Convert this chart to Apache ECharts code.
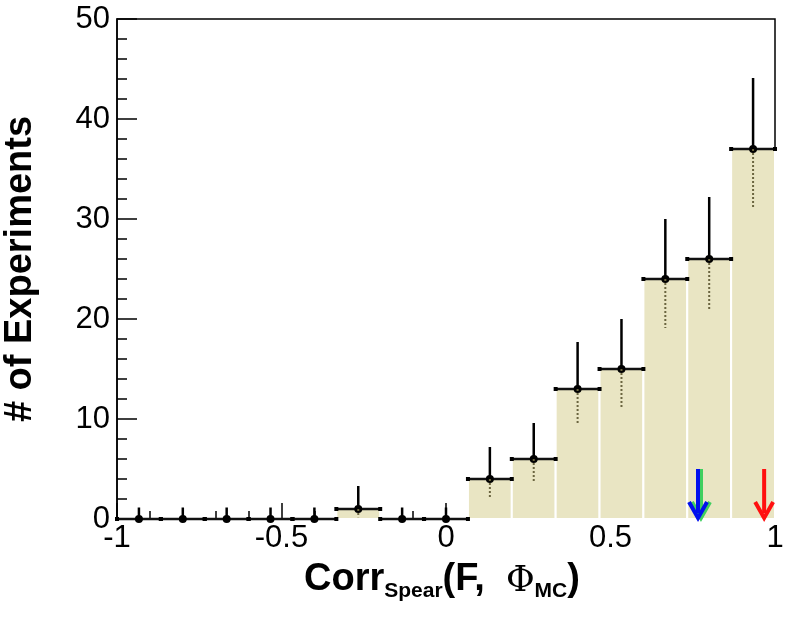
<!DOCTYPE html>
<html>
<head>
<meta charset="utf-8">
<script src="https://cdn.jsdelivr.net/npm/echarts@6/dist/echarts.min.js"></script>
<style>
  * { margin: 0; padding: 0; }
  html, body { width: 100%; height: 100%; background: #fff; }
  #chart { width: 786px; height: 621px; }
</style>
</head>
<body>
<div id="chart"></div>
<script>
// histogram bins (15 bins from -1 to 1)
var binEdges = [-1, -0.8667, -0.7333, -0.6, -0.4667, -0.3333, -0.2, -0.0667, 0.0667, 0.2, 0.3333, 0.4667, 0.6, 0.7333, 0.8667, 1]
var counts = [0, 0, 0, 0, 0, 1, 0, 0, 4, 6, 13, 15, 24, 26, 37]
var errHigh = [1.15, 1.15, 1.15, 1.15, 1.15, 3.3, 1.15, 1.15, 7.2, 9.6, 17.7, 20, 30, 32.2, 44.1]
var errLow = [0, 0, 0, 0, 0, 0.17, 0, 0, 2.1, 3.6, 9.4, 11.2, 19.1, 20.9, 31]
// arrows: x position, colour
var arrowX = [0.775, 0.766, 0.967]
var arrowColors = ['#3fcf5f', '#0010ee', '#ff1010']
var arrowTop = 5

var barData = []
var errData = []
for (var i = 0; i < counts.length; i++) {
  var lo = binEdges[i]
  var hi = binEdges[i + 1]
  if (counts[i] > 0) barData.push([lo, hi, counts[i]])
  errData.push([(lo + hi) / 2, counts[i], errLow[i], errHigh[i], lo, hi])
}
var arrowData = arrowX.map(function(x, i) { return [x, arrowTop, 0, i] })

var chart = echarts.init(document.getElementById('chart'))
var font = 'Liberation Sans, Arial, sans-serif'

function renderBar(params, api) {
  var p0 = api.coord([api.value(0), api.value(2)])
  var p1 = api.coord([api.value(1), 0])
  return {
    type: 'rect',
    shape: { x: p0[0], y: p0[1], width: p1[0] - p0[0], height: p1[1] - p0[1] },
    style: { fill: '#e9e5c3', stroke: '#ffffff', lineWidth: 2 }
  }
}

function renderErr(params, api) {
  var x = api.value(0)
  var c = api.coord([x, api.value(1)])
  var low = api.coord([x, api.value(2)])
  var high = api.coord([x, api.value(3)])
  var left = api.coord([api.value(4), api.value(1)])
  var right = api.coord([api.value(5), api.value(1)])
  var children = [
    { type: 'line', shape: { x1: c[0], y1: c[1], x2: high[0], y2: high[1] },
      style: { stroke: '#000', lineWidth: 2.5 } },
    { type: 'line', shape: { x1: left[0], y1: c[1], x2: right[0], y2: c[1] },
      style: { stroke: '#111', lineWidth: 2.5 } },
    { type: 'rect', shape: { x: left[0] - 2, y: c[1] - 2, width: 4, height: 4 }, style: { fill: '#000' } },
    { type: 'rect', shape: { x: right[0] - 2, y: c[1] - 2, width: 4, height: 4 }, style: { fill: '#000' } },
    { type: 'circle', shape: { cx: c[0], cy: c[1], r: 4 }, style: { fill: '#000' } }
  ]
  if (low[1] - c[1] > 2) {
    children.push({ type: 'line', shape: { x1: c[0], y1: c[1], x2: low[0], y2: low[1] },
      style: { stroke: '#6b6540', lineWidth: 2, lineDash: [2, 2] } })
  }
  return { type: 'group', children: children }
}

function renderArrow(params, api) {
  var top = api.coord([api.value(0), api.value(1)])
  var tip = api.coord([api.value(0), api.value(2)])
  var color = arrowColors[api.value(3)]
  var hw = 9
  var hh = 17
  return {
    type: 'group',
    children: [
      { type: 'line', shape: { x1: top[0], y1: top[1], x2: tip[0], y2: tip[1] - 6 },
        style: { stroke: color, lineWidth: 4 } },
      { type: 'polyline', shape: { points: [[tip[0] - hw, tip[1] - hh], [tip[0], tip[1] - 1], [tip[0] + hw, tip[1] - hh]] },
        style: { stroke: color, lineWidth: 4, fill: null } }
    ]
  }
}

var options = {
  animation: false,
  grid: {
    left: 117,
    right: 11,
    top: 19,
    bottom: 102,
    containLabel: false,
    outerBoundsMode: 'none',
    show: true,
    borderColor: '#000',
    borderWidth: 1.5
  },
  xAxis: {
    type: 'value',
    min: -1,
    max: 1,
    interval: 0.5,
    axisLine: { show: true, onZero: false, lineStyle: { color: '#000', width: 1.5 } },
    axisTick: { show: true, inside: true, length: 16, lineStyle: { color: '#000', width: 1.5 } },
    minorTick: { show: true, splitNumber: 5, length: 8, lineStyle: { color: '#000', width: 1.5 } },
    splitLine: { show: false },
    axisLabel: { color: '#000', fontSize: 31, fontFamily: font, margin: 4 }
  },
  yAxis: {
    type: 'value',
    min: 0,
    max: 50,
    interval: 10,
    name: '# of Experiments',
    nameLocation: 'middle',
    nameGap: 77,
    nameTextStyle: { color: '#000', fontSize: 38, fontWeight: 'bold', fontFamily: font },
    axisLine: { show: true, onZero: false, lineStyle: { color: '#000', width: 1.5 } },
    axisTick: { show: true, inside: true, length: 20, lineStyle: { color: '#000', width: 1.5 } },
    minorTick: { show: true, splitNumber: 5, length: 10, lineStyle: { color: '#000', width: 1.5 } },
    splitLine: { show: false },
    axisLabel: { color: '#000', fontSize: 31, fontFamily: font, margin: 7 }
  },
  graphic: [{
    type: 'text',
    left: 304,
    top: 561,
    style: {
      text: '{b|Corr}{s|Spear}{b|(F,  }{p|Φ}{s|MC}{b|)}',
      rich: {
        b: { fontSize: 38, fontWeight: 'bold', fontFamily: font, fill: '#000', verticalAlign: 'top', lineHeight: 44 },
        p: { fontSize: 35, fontFamily: 'DejaVu Serif, serif', fill: '#000', verticalAlign: 'top', lineHeight: 44, padding: [3, 0, 0, 0] },
        s: { fontSize: 21, fontWeight: 'bold', fontFamily: font, fill: '#000', verticalAlign: 'top', lineHeight: 44, padding: [20, 0, 0, 0] }
      }
    }
  }],
  series: [
    { type: 'custom', renderItem: renderBar, data: barData, z: 2, encode: { x: [0, 1], y: 2 } },
    { type: 'custom', renderItem: renderErr, data: errData, z: 3, encode: { x: [0, 4, 5], y: [1, 2, 3] } },
    { type: 'custom', renderItem: renderArrow, data: arrowData, z: 4, encode: { x: 0, y: [1, 2] } }
  ]
}
chart.setOption(options)
window.addEventListener('resize', () => {
  chart.resize()
}, false)
</script>
</body>
</html>
